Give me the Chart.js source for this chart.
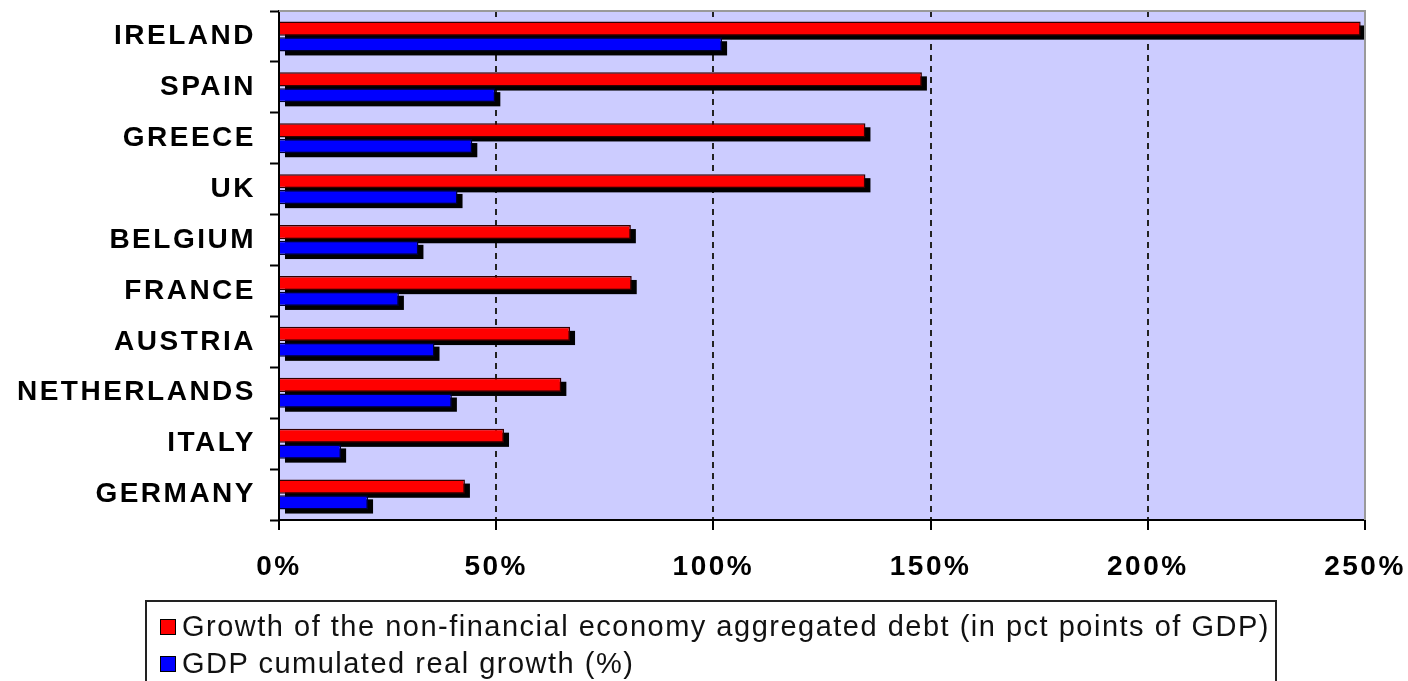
<!DOCTYPE html>
<html>
<head>
<meta charset="utf-8">
<script src="https://cdn.jsdelivr.net/npm/chart.js@4.4.1/dist/chart.umd.min.js"></script>
<style>
  body { margin: 0; background: #fff; }
  #wrap { position: relative; width: 1408px; height: 681px; overflow: hidden; }
  #legend {
    position: absolute; left: 145px; top: 600px; width: 1128px; height: 100px;
    border: 2px solid #222; font-family: 'Liberation Sans', Arial, sans-serif;
    font-size: 29px; letter-spacing: 1.5px; color: #111;
  }
  .item { position: absolute; left: 13px; display: flex; align-items: center; white-space: nowrap; line-height: 33px; }
  .swatch { width: 14px; height: 14px; border: 1.5px solid #000; margin-right: 6px; }
</style>
</head>
<body>
<div id="wrap">
  <canvas id="debtChart" width="1408" height="681"></canvas>
  <div id="legend"></div>
</div>
<script>
/* ===== Debt growth vs GDP growth, horizontal bars ===== */

const countries = ['IRELAND', 'SPAIN', 'GREECE', 'UK', 'BELGIUM', 'FRANCE', 'AUSTRIA', 'NETHERLANDS', 'ITALY', 'GERMANY'];
const debtGrowth = [249, 148, 135, 135, 81, 81.2, 67, 65, 51.8, 42.8];
const gdpGrowth = [102, 49.8, 44.5, 41.1, 32.1, 27.6, 35.8, 39.8, 14.3, 20.5];
const seriesNames = [
  'Growth of the non-financial economy aggregated debt (in pct points of GDP)',
  'GDP cumulated real growth (%)'
];
const xMax = 250;
const xStep = 50;

const FONT = "'Liberation Sans', Arial, sans-serif";
const SPACING = '2.5px';

// lavender plot area, grey frame, letter spacing for the tick text
const plotFrame = {
  id: 'plotFrame',
  beforeUpdate(chart) { chart.ctx.letterSpacing = SPACING; },
  beforeDraw(chart) {
    const { ctx, chartArea: a } = chart;
    ctx.letterSpacing = SPACING;
    ctx.save();
    ctx.fillStyle = '#ccccff';
    ctx.fillRect(a.left, a.top, a.right - a.left, a.bottom - a.top);
    ctx.restore();
  },
  afterDatasetsDraw(chart) {
    const { ctx, chartArea: a } = chart;
    ctx.save();
    ctx.strokeStyle = '#9a9a9a';
    ctx.lineWidth = 2;
    ctx.beginPath();
    ctx.moveTo(a.left, a.top);
    ctx.lineTo(a.right, a.top);
    ctx.lineTo(a.right, a.bottom);
    ctx.stroke();
    ctx.restore();
  }
};

// hard black drop shadow under every bar
const barShadow = {
  id: 'barShadow',
  beforeDatasetsDraw(chart) {
    const ctx = chart.ctx;
    ctx.save();
    ctx.fillStyle = '#000';
    chart.data.datasets.forEach((ds, i) => {
      chart.getDatasetMeta(i).data.forEach(bar => {
        const { x, y, base, height } = bar.getProps(['x', 'y', 'base', 'height'], true);
        ctx.fillRect(base + 5, y - height / 2 + 4, x - base, height);
      });
    });
    ctx.restore();
  }
};

const chart = new Chart(document.getElementById('debtChart').getContext('2d'), {
  type: 'bar',
  data: {
    labels: countries,
    datasets: [
      { label: seriesNames[0], data: debtGrowth, backgroundColor: '#ff0000', borderColor: '#330000', borderWidth: 1.5 },
      { label: seriesNames[1], data: gdpGrowth, backgroundColor: '#0000ff', borderColor: '#000033', borderWidth: 1.5 }
    ]
  },
  options: {
    indexAxis: 'y',
    responsive: false,
    animation: false,
    datasets: { bar: { categoryPercentage: 0.62, barPercentage: 0.9 } },
    layout: { padding: { top: 11, right: 43, left: 0, bottom: 0 } },
    plugins: { legend: { display: false }, tooltip: { enabled: false } },
    scales: {
      x: {
        min: 0,
        max: xMax,
        ticks: {
          stepSize: xStep,
          padding: 20,
          color: '#000',
          font: { family: FONT, size: 28, weight: 'bold' },
          callback: v => v + '%'
        },
        grid: {
          color: ctx => (ctx.tick && ctx.tick.value > 0 && ctx.tick.value < xMax) ? '#222' : 'rgba(0,0,0,0)',
          lineWidth: 2,
          tickColor: '#000',
          tickWidth: 2,
          tickLength: 10,
          tickBorderDash: []
        },
        border: { display: true, color: '#000', width: 2, dash: [6, 5] },
        afterFit: s => { s.height = 161; s.paddingLeft = 0; s.paddingRight = 0; }
      },
      y: {
        ticks: {
          padding: 14,
          color: '#000',
          font: { family: FONT, size: 28, weight: 'bold' }
        },
        grid: {
          drawOnChartArea: false,
          drawTicks: true,
          tickLength: 9,
          tickColor: '#000',
          tickWidth: 2
        },
        border: { display: true, color: '#000', width: 2 },
        afterFit: s => { s.width = 279; s.paddingTop = 0; s.paddingBottom = 0; }
      }
    }
  },
  plugins: [plotFrame, barShadow]
});

// legend in a framed box under the axis
const legendEl = document.getElementById('legend');
chart.data.datasets.forEach((ds, i) => {
  const item = document.createElement('div');
  item.className = 'item';
  item.style.top = (8 + i * 37) + 'px';
  const sw = document.createElement('span');
  sw.className = 'swatch';
  sw.style.background = ds.backgroundColor;
  item.appendChild(sw);
  item.appendChild(document.createTextNode(ds.label));
  legendEl.appendChild(item);
});
</script>
</body>
</html>
